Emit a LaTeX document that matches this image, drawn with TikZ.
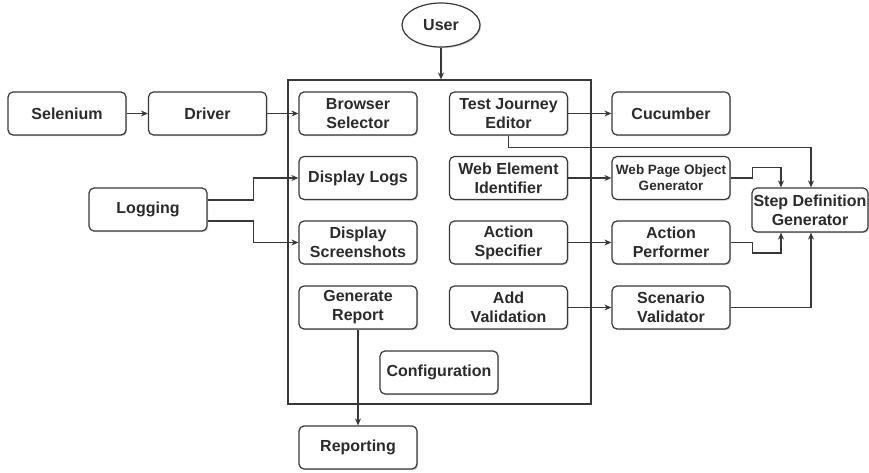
\documentclass[tikz,border=0pt]{standalone}
\usepackage{fontspec}
\setmainfont{Liberation Sans}
\usetikzlibrary{arrows.meta,shadows,calc,shapes.geometric}
\definecolor{ink}{HTML}{2B2B2B}
\definecolor{edge}{HTML}{383838}
\begin{document}
\begin{tikzpicture}[x=1pt,y=-1pt,
  every node/.style={text=ink,font=\fontsize{16}{19}\selectfont\bfseries},
  block/.style={draw=edge,line width=1.2pt,rounded corners=5pt,fill=white,
    minimum width=118pt,minimum height=43pt,inner sep=1pt,align=center,
    drop shadow={shadow xshift=1.2pt,shadow yshift=-1.2pt,opacity=0.35}},
  frame/.style={draw=edge,line width=1.2pt,fill=white,inner sep=0pt,
    drop shadow={shadow xshift=1.2pt,shadow yshift=-1.2pt,opacity=0.35}},
  arr/.style={draw=edge,line width=1.1pt,-{Stealth[length=7pt,width=6pt]}}]
\useasboundingbox (0,0) rectangle (869,473);

% central application frame
\node[frame,minimum width=303pt,minimum height=324pt] (app) at (439.5,242) {};

% user
\node[draw=edge,line width=1.2pt,ellipse,fill=white,minimum width=78pt,minimum height=44pt,inner sep=0pt,
  drop shadow={shadow xshift=1.2pt,shadow yshift=-1.2pt,opacity=0.35}] (user) at (441,25) {User};

% left column
\node[block] (sel) at (67,113.5) {Selenium};
\node[block] (drv) at (207.5,113.5) {Driver};
\node[block] (log) at (148,209.5) {Logging};

% inside the frame
\node[block] (bsel) at (358,113.5) {Browser\\Selector};
\node[block] (dlog) at (358,178) {Display Logs};
\node[block] (dshot) at (358,242.5) {Display\\Screenshots};
\node[block] (grep) at (358,307.5) {Generate\\Report};
\node[block] (tje) at (508.5,113.5) {Test Journey\\Editor};
\node[block] (wei) at (508.5,178) {Web Element\\Identifier};
\node[block] (aspec) at (508.5,242.5) {Action\\Specifier};
\node[block] (aval) at (508.5,307.5) {Add\\Validation};
\node[block] (conf) at (439,372.5) {Configuration};

% below the frame
\node[block] (rep) at (358,447.5) {Reporting};

% right column
\node[block] (cuc) at (671,113.5) {Cucumber};
\node[block,font=\fontsize{13.5}{16}\selectfont\bfseries] (wpog) at (671,178) {Web Page Object\\Generator};
\node[block] (aperf) at (671,242.5) {Action\\Performer};
\node[block] (sval) at (671,307.5) {Scenario\\Validator};
\node[block,minimum width=116pt,minimum height=44pt] (sdg) at (810,210) {Step Definition\\Generator};

% connectors
\draw[arr] (user.south) -- (user.south |- app.north);
\draw[arr] (sel.east) -- (drv.west);
\draw[arr] (drv.east) -- (bsel.west);
\draw[arr] ([yshift=9.5pt]log.east) -- ++(46,0) |- (dlog.west);
\draw[arr] ([yshift=-11.5pt]log.east) -- ++(46,0) |- (dshot.west);
\draw[arr] (tje.east) -- (cuc.west);
\draw[arr] (tje.south) -- ++(0,11.5) -| ([xshift=1pt]sdg.north);
\draw[arr] (wei.east) -- (wpog.west);
\draw[arr] (wpog.east) -- ++(22,0) -- ++(0,-10.5) -| ([xshift=-29pt]sdg.north);
\draw[arr] (aspec.east) -- (aperf.west);
\draw[arr] (aperf.east) -- ++(22,0) -- ++(0,10.5) -| ([xshift=-29pt]sdg.south);
\draw[arr] (aval.east) -- (sval.west);
\draw[arr] (sval.east) -| ([xshift=1pt]sdg.south);
\draw[arr] (grep.south) -- (rep.north);
\end{tikzpicture}
\end{document}
